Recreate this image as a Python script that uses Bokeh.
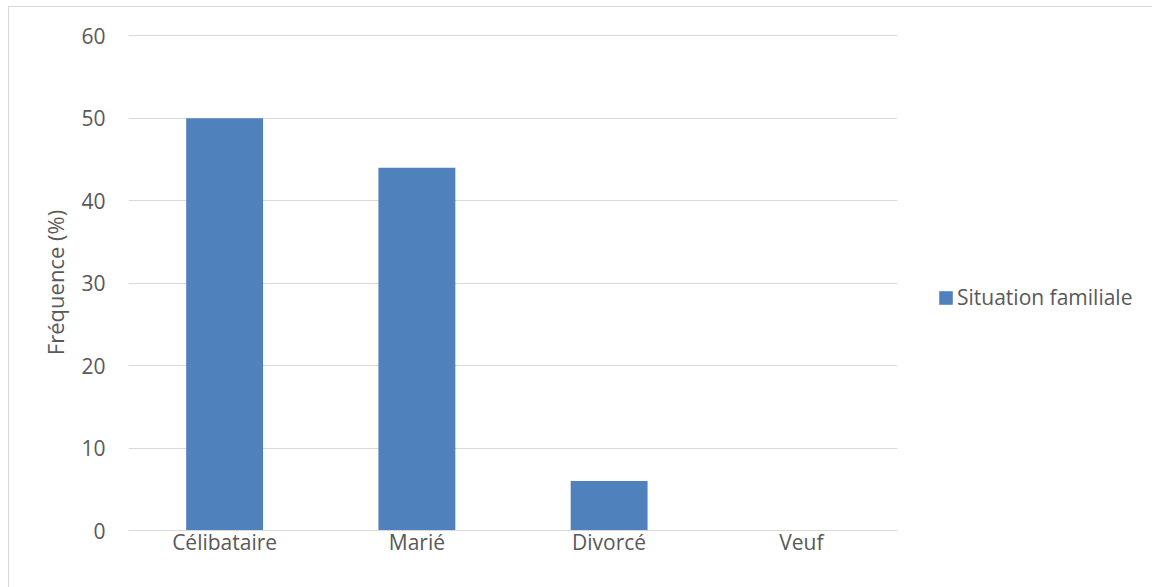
from bokeh.plotting import figure
from bokeh.models import ColumnDataSource, Legend, LegendItem, FixedTicker
from bokeh.embed import file_html
from bokeh.resources import INLINE

# Situation familiale distribution (%)
categories = ["Célibataire", "Marié", "Divorcé", "Veuf"]
frequencies = [50, 44, 6, 0]
y_ticks = [0, 10, 20, 30, 40, 50, 60]
series_name = "Situation familiale"

TEXT = "#595959"
GRID = "#d9d9d9"
BAR = "#4f81bd"
FONT = "Open Sans"

source = ColumnDataSource(data=dict(cat=categories, val=frequencies))

# canvas sits 8px in from the left and 6px down, framed by a thin border
p = figure(
    x_range=categories, y_range=(0, 60.15),
    frame_width=769, frame_height=496,
    min_border_left=119, min_border_right=10,
    min_border_top=27, min_border_bottom=57,
    output_backend="svg", toolbar_location=None,
    margin=(6, 0, 0, 8),
    styles={"border-top": "1px solid #d9d9d9", "border-left": "1px solid #d9d9d9"},
)

r = p.vbar(x="cat", top="val", width=0.4, source=source,
           fill_color=BAR, line_color=None)

p.outline_line_color = None
p.background_fill_color = "white"
p.border_fill_color = "white"

# horizontal gridlines only
p.xgrid.grid_line_color = None
p.ygrid.grid_line_color = GRID
p.ygrid.grid_line_width = 1
p.yaxis.ticker = FixedTicker(ticks=y_ticks)

p.yaxis.axis_line_color = None
p.yaxis.major_tick_line_color = None
p.yaxis.major_tick_out = 0
p.yaxis.minor_tick_line_color = None
p.yaxis.minor_tick_out = 0
p.yaxis.major_label_standoff = 23
p.yaxis.major_label_text_font = FONT
p.yaxis.major_label_text_font_size = "21px"
p.yaxis.major_label_text_color = TEXT
p.yaxis.axis_label = "Fréquence (%)"
p.yaxis.axis_label_text_font = FONT
p.yaxis.axis_label_text_font_size = "22px"
p.yaxis.axis_label_text_font_style = "normal"
p.yaxis.axis_label_text_color = TEXT
p.yaxis.axis_label_standoff = 8

p.xaxis.axis_line_color = GRID
p.xaxis.major_tick_line_color = None
p.xaxis.major_tick_out = 0
p.xaxis.minor_tick_line_color = None
p.xaxis.minor_tick_out = 0
p.xaxis.major_label_standoff = -3
p.xaxis.major_label_text_font = FONT
p.xaxis.major_label_text_font_size = "21px"
p.xaxis.major_label_text_color = TEXT

legend = Legend(items=[LegendItem(label=series_name, renderers=[r])],
                location=(40, 219),
                glyph_width=17, glyph_height=17, label_standoff=3,
                padding=0, margin=40, spacing=0,
                border_line_color=None, background_fill_alpha=0,
                label_text_font=FONT, label_text_font_size="21px",
                label_text_color=TEXT)
p.add_layout(legend, "right")

open("out.html", "w").write(file_html(p, INLINE))
